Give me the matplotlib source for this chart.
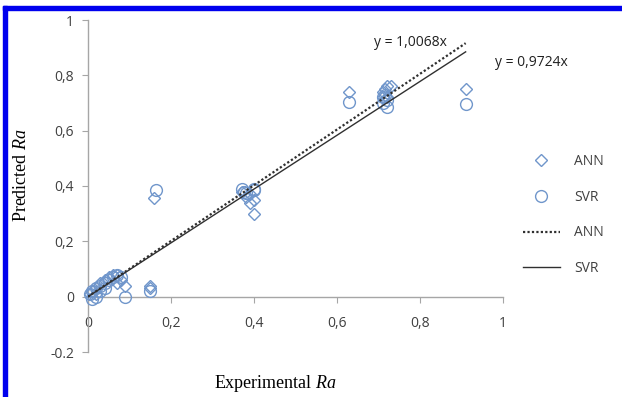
import matplotlib
matplotlib.use("Agg")
import matplotlib.pyplot as plt
import numpy as np
from matplotlib.lines import Line2D
from matplotlib.patches import Rectangle

# ANN predictions (diamonds)
ann_x = [0.005, 0.01, 0.02, 0.02, 0.03, 0.04, 0.05, 0.06, 0.07, 0.07, 0.08, 0.09,
         0.15, 0.15, 0.16,
         0.37, 0.38, 0.39, 0.39, 0.40, 0.40,
         0.63, 0.71, 0.71, 0.715, 0.72, 0.72, 0.73, 0.91]
ann_y = [0.01, 0.02, 0.03, 0.01, 0.05, 0.06, 0.07, 0.08, 0.08, 0.05, 0.06, 0.04,
         0.04, 0.03, 0.355,
         0.38, 0.36, 0.34, 0.37, 0.35, 0.30,
         0.74, 0.72, 0.74, 0.75, 0.76, 0.72, 0.76, 0.75]

# SVR predictions (circles)
svr_x = [0.005, 0.01, 0.01, 0.02, 0.02, 0.03, 0.03, 0.04, 0.04, 0.05, 0.06, 0.07, 0.08, 0.09,
         0.15, 0.165,
         0.37, 0.375, 0.38, 0.40, 0.40,
         0.63, 0.71, 0.71, 0.715, 0.72, 0.72, 0.91]
svr_y = [0.01, 0.02, -0.01, 0.03, 0.0, 0.04, 0.02, 0.05, 0.03, 0.06, 0.07, 0.08, 0.07, 0.0,
         0.02, 0.385,
         0.39, 0.38, 0.375, 0.385, 0.39,
         0.705, 0.70, 0.72, 0.73, 0.685, 0.71, 0.695]

# trendlines through the origin
ann_slope = 1.0068
svr_slope = 0.9724
fit_x = np.array([0.0, 0.91])

x_ticks = [0, 0.2, 0.4, 0.6, 0.8, 1]
x_labels = ["0", "0,2", "0,4", "0,6", "0,8", "1"]
y_ticks = [-0.2, 0, 0.2, 0.4, 0.6, 0.8, 1]
y_labels = ["-0.2", "0", "0,2", "0,4", "0,6", "0,8", "1"]

plt.rcParams["font.family"] = ["Open Sans", "DejaVu Sans"]
plt.rcParams["mathtext.fontset"] = "custom"
plt.rcParams["mathtext.it"] = "Liberation Serif:italic"
plt.rcParams["mathtext.rm"] = "Liberation Serif"

W, H = 622, 397
fig = plt.figure(figsize=(W / 100, H / 100), dpi=100)
ax = fig.add_axes([88 / W, (H - 352) / H, 415 / W, 332 / H])

blue = "#7096cb"
gray = "#a6a6a6"
ink = "#404040"

ax.plot(ann_x, ann_y, linestyle="none", marker="D", markersize=6.5,
        markerfacecolor="none", markeredgecolor=blue, markeredgewidth=1.0,
        clip_on=False, zorder=3)
ax.plot(svr_x, svr_y, linestyle="none", marker="o", markersize=8.5,
        markerfacecolor="none", markeredgecolor=blue, markeredgewidth=1.0,
        clip_on=False, zorder=3)
ax.plot(fit_x, ann_slope * fit_x, linestyle=(0, (1, 1)), color="#303030", lw=1.6, zorder=4)
ax.plot(fit_x, svr_slope * fit_x, linestyle="-", color="#303030", lw=1.0, zorder=4)

ax.text(0.69, 0.917, "y = 1,0068x", fontsize=10, color="#202020", va="center")
ax.text(0.98, 0.848, "y = 0,9724x", fontsize=10, color="#202020", va="center")

ax.set_xlim(0, 1)
ax.set_ylim(-0.2, 1)
for side in ("top", "right"):
    ax.spines[side].set_visible(False)
ax.spines["bottom"].set_position(("data", 0))
for side in ("left", "bottom"):
    ax.spines[side].set_color(gray)
    ax.spines[side].set_linewidth(1.0)
ax.set_xticks(x_ticks, x_labels)
ax.set_yticks(y_ticks, y_labels)
ax.tick_params(axis="x", direction="out", length=4, width=0.8, color=gray,
               pad=10, labelsize=10, labelcolor=ink)
ax.tick_params(axis="y", direction="out", length=4, width=0.8, color=gray,
               pad=6, labelsize=10, labelcolor=ink)

fig.text(22 / W, 1 - 175 / H, r"Predicted $\it{Ra}$", rotation=90, fontsize=13,
         family="Liberation Serif", ha="center", va="center")
fig.text(275 / W, 1 - 383 / H, r"Experimental $\it{Ra}$", fontsize=13,
         family="Liberation Serif", ha="center", va="center")

handles = [
    Line2D([], [], linestyle="none", marker="D", markersize=6.5, markerfacecolor="none",
           markeredgecolor=blue),
    Line2D([], [], linestyle="none", marker="o", markersize=8.5, markerfacecolor="none",
           markeredgecolor=blue),
    Line2D([], [], linestyle=(0, (1, 1)), color="#303030", lw=1.6),
    Line2D([], [], linestyle="-", color="#303030", lw=1.0),
]
fig.legend(handles, ["ANN", "SVR", "ANN", "SVR"], loc="center left",
           bbox_to_anchor=(510 / W, 1 - 215 / H), frameon=False, fontsize=10,
           labelcolor=ink, labelspacing=1.5, handlelength=2.7, handletextpad=1.0)

# blue frame around the picture
fig.patches.append(Rectangle((3 / W, 0), 4 / W, 1 - 6 / H, transform=fig.transFigure,
                             color="#0000ee", zorder=0))
fig.patches.append(Rectangle((3 / W, 1 - 10 / H), 1, 4 / H, transform=fig.transFigure,
                             color="#0000ee", zorder=0))

fig.savefig("out.png", dpi=100)
